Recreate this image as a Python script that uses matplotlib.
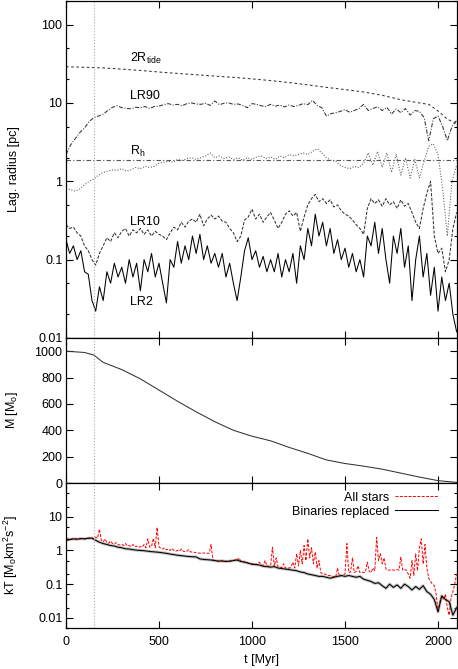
import numpy as np
import matplotlib
matplotlib.use("Agg")
import matplotlib.pyplot as plt
from matplotlib.ticker import LogLocator, NullFormatter

plt.rcParams['font.family'] = ['Liberation Sans', 'DejaVu Sans']
plt.rcParams['mathtext.fontset'] = 'custom'
plt.rcParams['mathtext.rm'] = 'Liberation Sans'
plt.rcParams['mathtext.it'] = 'Liberation Sans:italic'
plt.rcParams['font.size'] = 9

# ---------------- data ----------------
t_vline = 150.0       # marker line [Myr]
rh_level = 1.85       # horizontal dash-dot reference level [pc]

# 2 R_tide
t_tide = [0, 100, 200, 300, 400, 500, 600, 700, 800, 900, 1000, 1100, 1200,
          1300, 1400, 1500, 1600, 1700, 1800, 1900, 1950, 2000, 2050, 2100]
r_tide = [29, 28.5, 28, 27, 26, 24.8, 23.8, 22.9, 22, 21.2, 20.3, 19.3, 18.2,
          17, 15.8, 14.8, 13.8, 12.5, 11, 10, 9.6, 7.9, 6.2, 5.5]

# LR90 and R_h, every 25 Myr
t_25 = np.arange(0, 2101, 25)
lr90 = [2.2, 2.9, 3.5, 4.2, 4.8, 5.8, 6.5, 6.8, 7.2, 8.0, 8.8, 9.2, 8.7, 8.5,
        8.4, 8.8, 8.7, 9.0, 8.5, 9.0, 9.1, 9.5, 9.8, 9.4, 9.6, 9.2, 9.8, 10.0,
        9.7, 9.6, 9.9, 9.3, 10.6, 9.5, 9.9, 10.0, 9.6, 9.7, 9.3, 8.7, 9.8, 9.6,
        9.2, 9.0, 9.6, 9.1, 9.4, 8.9, 9.4, 9.0, 9.3, 9.8, 9.5, 10.8, 9.3, 8.7,
        6.8, 7.3, 7.5, 7.8, 8.2, 7.6, 8.0, 8.5, 9.6, 8.0, 8.5, 8.9, 8.0, 8.8,
        7.2, 8.4, 7.5, 8.5, 7.0, 8.0, 7.8, 6.5, 3.3, 6.3, 6.8, 5.0, 3.3, 5.0, 6.0]
rh = [0.8, 0.78, 0.75, 0.8, 0.9, 1.0, 1.07, 1.2, 1.3, 1.35, 1.4, 1.38, 1.45,
      1.35, 1.4, 1.5, 1.45, 1.55, 1.5, 1.55, 1.7, 1.75, 1.8, 1.75, 1.9, 1.85,
      1.95, 2.0, 1.9, 2.0, 2.1, 2.3, 2.0, 2.1, 1.95, 2.05, 1.9, 2.0, 1.85, 2.0,
      1.9, 2.05, 2.1, 1.95, 2.05, 1.9, 2.1, 2.0, 2.2, 2.1, 2.2, 2.3, 2.2, 2.4,
      2.6, 2.3, 2.0, 1.85, 1.8, 1.6, 1.5, 1.45, 1.55, 1.5, 1.7, 2.3, 1.6, 2.4,
      1.5, 2.3, 1.3, 2.2, 1.2, 2.0, 1.1, 1.9, 1.1, 1.8, 2.8, 3.0, 2.2, 0.8,
      0.2, 1.0, 1.6]

# LR10 and LR2, every 20 Myr
t_20 = np.arange(0, 2101, 20)
lr10 = [0.28, 0.25, 0.26, 0.22, 0.2, 0.15, 0.13, 0.1, 0.085, 0.12, 0.15, 0.19,
        0.17, 0.22, 0.19, 0.23, 0.25, 0.2, 0.24, 0.22, 0.25, 0.21, 0.24, 0.2,
        0.23, 0.21, 0.2, 0.18, 0.22, 0.26, 0.24, 0.3, 0.26, 0.31, 0.33, 0.3,
        0.38, 0.27, 0.33, 0.37, 0.33, 0.36, 0.31, 0.3, 0.25, 0.22, 0.17, 0.2,
        0.32, 0.35, 0.44, 0.33, 0.38, 0.3, 0.35, 0.4, 0.32, 0.25, 0.3, 0.38,
        0.42, 0.36, 0.4, 0.23, 0.35, 0.5, 0.6, 0.68, 0.55, 0.6, 0.52, 0.58,
        0.47, 0.5, 0.42, 0.38, 0.36, 0.32, 0.28, 0.25, 0.21, 0.45, 0.6, 0.52,
        0.58, 0.48, 0.6, 0.5, 0.55, 0.45, 0.58, 0.48, 0.52, 0.4, 0.3, 0.25,
        0.45, 0.7, 1.0, 0.2, 0.12, 0.14, 0.07, 0.1, 0.25, 0.4]
lr2 = [0.18, 0.12, 0.15, 0.10, 0.13, 0.07, 0.065, 0.03, 0.022, 0.045, 0.03,
       0.07, 0.05, 0.09, 0.06, 0.08, 0.05, 0.1, 0.06, 0.09, 0.04, 0.1, 0.07,
       0.12, 0.06, 0.09, 0.05, 0.028, 0.1, 0.08, 0.17, 0.09, 0.15, 0.1, 0.2,
       0.12, 0.21, 0.1, 0.15, 0.09, 0.12, 0.08, 0.12, 0.06, 0.09, 0.05, 0.03,
       0.06, 0.13, 0.19, 0.1, 0.13, 0.08, 0.11, 0.07, 0.1, 0.07, 0.12, 0.06,
       0.1, 0.07, 0.12, 0.05, 0.15, 0.1, 0.25, 0.15, 0.38, 0.2, 0.3, 0.15,
       0.25, 0.12, 0.18, 0.1, 0.14, 0.08, 0.12, 0.07, 0.1, 0.06, 0.2, 0.15,
       0.3, 0.12, 0.25, 0.1, 0.05, 0.2, 0.12, 0.25, 0.08, 0.15, 0.03, 0.1,
       0.2, 0.06, 0.12, 0.035, 0.08, 0.022, 0.06, 0.03, 0.05, 0.02, 0.012]

# cluster mass
t_mass = [0, 100, 150, 200, 300, 400, 500, 600, 700, 800, 900, 1000, 1100,
          1200, 1300, 1400, 1500, 1600, 1700, 1800, 1900, 2000, 2100]
mass = [1000, 990, 970, 915, 860, 790, 705, 620, 540, 465, 400, 355, 320,
        270, 225, 175, 148, 128, 105, 75, 45, 18, 5]

# kT, binaries replaced (every 20 Myr)
kt_bin = [2.2, 2.1, 2.2, 2.15, 2.25, 2.2, 2.3, 2.3, 2.0, 1.75, 1.6, 1.5, 1.4,
          1.35, 1.25, 1.2, 1.12, 1.1, 1.05, 1.02, 1.0, 0.98, 0.95, 0.92, 0.9,
          0.88, 0.85, 0.82, 0.78, 0.75, 0.72, 0.7, 0.68, 0.66, 0.65, 0.64,
          0.56, 0.54, 0.53, 0.52, 0.5, 0.48, 0.49, 0.47, 0.48, 0.5, 0.52, 0.47,
          0.45, 0.42, 0.39, 0.38, 0.37, 0.34, 0.33, 0.32, 0.33, 0.3, 0.29, 0.28,
          0.27, 0.26, 0.25, 0.23, 0.22, 0.2, 0.19, 0.18, 0.17, 0.17, 0.16,
          0.15, 0.16, 0.17, 0.18, 0.17, 0.18, 0.17, 0.16, 0.17, 0.14, 0.13,
          0.12, 0.105, 0.11, 0.09, 0.075, 0.1, 0.08, 0.095, 0.075, 0.1, 0.085,
          0.067, 0.085, 0.07, 0.09, 0.06, 0.05, 0.035, 0.015, 0.045, 0.035,
          0.03, 0.012, 0.02]

# kT, all stars (every 10 Myr)
t_10 = np.arange(0, 2101, 10)
kt_all = [2.2, 2.15, 2.1, 2.2, 2.2, 2.15, 2.25, 2.2, 2.2, 2.25,
          2.2, 2.3, 2.3, 2.35, 2.4, 2.2, 2.5, 2.3, 4.3, 2.0,
          1.8, 2.2, 1.7, 1.65, 1.9, 1.6, 1.55, 1.7, 1.5, 1.45,
          1.5, 1.4, 1.6, 1.35, 1.4, 1.3, 1.5, 1.3, 1.35, 1.25,
          1.3, 1.25, 1.5, 1.2, 2.2, 1.25, 1.3, 2.3, 1.2, 4.8,
          1.3, 1.15, 1.1, 1.2, 1.05, 1.1, 1.0, 1.15, 1.0, 0.95,
          1.0, 0.95, 1.1, 0.95, 0.92, 0.95, 1.05, 0.9, 0.9, 0.88,
          0.85, 0.84, 0.83, 0.83, 0.84, 0.83, 0.82, 0.83, 1.5, 0.52,
          0.5, 0.49, 0.48, 0.5, 0.47, 0.49, 0.48, 0.47, 0.49, 0.48,
          0.5, 0.53, 0.5, 0.6, 0.48, 0.47, 0.45, 0.44, 0.42, 0.4,
          0.4, 0.39, 0.4, 0.38, 0.45, 0.37, 0.36, 0.5, 0.35, 0.34,
          0.34, 1.25, 0.34, 0.6, 0.33, 0.32, 0.31, 0.4, 0.3, 0.3,
          0.3, 0.32, 0.45, 0.3, 0.8, 0.35, 1.0, 0.4, 1.4, 0.5,
          2.2, 0.6, 1.2, 0.4, 0.9, 0.3, 0.5, 0.22, 0.2, 0.2,
          0.19, 0.18, 0.18, 0.17, 0.17, 0.16, 0.3, 0.17, 0.18, 0.19,
          0.2, 1.6, 0.22, 0.23, 0.6, 0.22, 0.24, 0.35, 0.22, 0.23,
          0.22, 0.23, 0.45, 0.24, 0.22, 0.3, 0.25, 2.4, 0.5, 0.8,
          0.4, 0.6, 0.28, 0.26, 0.26, 0.27, 0.26, 0.26, 0.27, 0.26,
          0.63, 0.26, 0.27, 0.26, 0.2, 0.15, 0.5, 0.18, 0.8, 0.25,
          1.2, 2.2, 0.4, 1.5, 0.3, 0.15, 0.12, 0.1, 0.09, 0.05,
          0.016, 0.03, 0.045, 0.035, 0.05, 0.02, 0.012, 0.04, 0.06, 0.1,
          0.2]

# ---------------- figure ----------------
fig = plt.figure(figsize=(4.58, 6.69), dpi=100)
L, W = 0.144, 0.853
ax1 = fig.add_axes([L, 0.4948, W, 0.5037])
ax2 = fig.add_axes([L, 0.278, W, 0.2168], sharex=ax1)
ax3 = fig.add_axes([L, 0.0613, W, 0.2167], sharex=ax1)

lw = 0.75
ax1.plot(t_tide, r_tide, color='#333333', lw=lw, dashes=(2.5, 2.5))
ax1.plot(t_25, lr90, color='#333333', lw=lw, dashes=(4, 1.5, 1, 1.5))
ax1.plot(t_25, rh, color='#555555', lw=lw, ls=':')
ax1.axhline(rh_level, color='#555555', lw=0.8, dashes=(4, 2, 1, 2))
ax1.plot(t_20, lr10, color='#333333', lw=lw, dashes=(3, 1.5))
ax1.plot(t_20, lr2, color='black', lw=lw)

ax1.text(345, 33, '2R$_\\mathrm{tide}$')
ax1.text(345, 11.3, 'LR90')
ax1.text(345, 2.15, 'R$_\\mathrm{h}$')
ax1.text(345, 0.28, 'LR10')
ax1.text(345, 0.026, 'LR2')

ax1.set_yscale('log')
ax1.set_ylim(0.01, 200)
ax1.set_yticks([0.01, 0.1, 1, 10, 100])
ax1.set_yticklabels(['0.01', '0.1', '1', '10', '100'])
ax1.yaxis.set_minor_locator(LogLocator(subs=(2, 5)))
ax1.yaxis.set_minor_formatter(NullFormatter())
ax1.set_ylabel('Lag. radius [pc]')

ax2.plot(t_mass, mass, color='#333333', lw=lw)
ax2.set_ylim(0, 1100)
ax2.set_yticks([0, 200, 400, 600, 800, 1000])
ax2.set_ylabel('M [M$_\\mathrm{o}$]')

ax3.plot(t_20, kt_bin, color='#999999', lw=2.2, alpha=0.6)
ax3.plot(t_10, kt_all, color='red', lw=0.7, dashes=(3, 1.5), label='All stars')
ax3.plot(t_20, kt_bin, color='black', lw=lw, label='Binaries replaced')
ax3.set_yscale('log')
ax3.set_ylim(0.005, 100)
ax3.set_yticks([0.01, 0.1, 1, 10])
ax3.set_yticklabels(['0.01', '0.1', '1', '10'])
ax3.yaxis.set_minor_locator(LogLocator(subs=(2, 5)))
ax3.yaxis.set_minor_formatter(NullFormatter())
ax3.set_ylabel('kT [M$_\\mathrm{o}$km$^2$s$^{-2}$]')
ax3.set_xlabel('t [Myr]', labelpad=4)
ax3.legend(loc='upper right', bbox_to_anchor=(0.965, 0.975),
           frameon=False, markerfirst=False, handlelength=3.4,
           handletextpad=0.5, labelspacing=0.15, borderaxespad=0)

ax1.set_xlim(0, 2100)
ax1.set_xticks([0, 500, 1000, 1500, 2000])
for ax in (ax1, ax2, ax3):
    ax.axvline(t_vline, color='#aaaaaa', lw=0.8, ls=':')
    ax.tick_params(which='both', direction='in', top=True, right=True,
                   labelsize=9, width=0.8)
    ax.tick_params(which='major', length=5)
    ax.tick_params(which='minor', length=2.5)
    ax.tick_params(axis='y', pad=2.5)
    ax.tick_params(axis='x', pad=6)
    ax.yaxis.set_label_coords(-0.118, 0.5)
    for s in ax.spines.values():
        s.set_linewidth(0.9)
for ax in (ax1, ax2):
    plt.setp(ax.get_xticklabels(), visible=False)

fig.savefig('out.png', dpi=100)
